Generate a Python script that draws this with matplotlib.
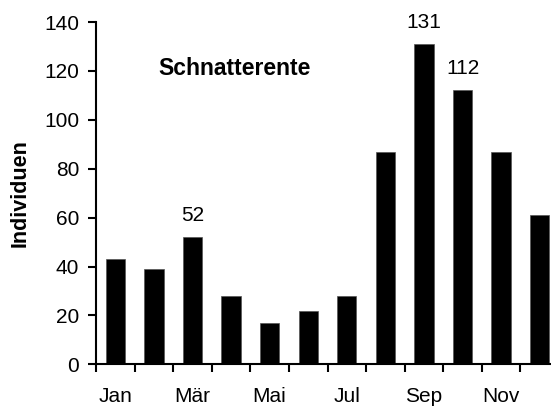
import matplotlib.pyplot as plt
import numpy as np

plt.rcParams['font.family'] = ['Liberation Sans', 'DejaVu Sans']

# monthly counts, Schnatterente
months = ['Jan', 'Feb', 'Mär', 'Apr', 'Mai', 'Jun', 'Jul', 'Aug', 'Sep', 'Okt', 'Nov', 'Dez']
counts = [43, 39, 52, 28, 17, 22, 28, 87, 131, 112, 87, 61]
labelled = {'Mär': 52, 'Sep': 131, 'Okt': 112}

fig = plt.figure(figsize=(5.51, 4.08), dpi=100)
ax = fig.add_axes([96 / 551, 1 - 364.3 / 408, (559 - 96) / 551, (364.3 - 22) / 408])

x = np.arange(len(months))
ax.bar(x, counts, width=0.5, color='black', edgecolor='#555555', linewidth=0.5)

for m, v in labelled.items():
    i = months.index(m)
    ax.text(i, v + 5, str(v), ha='center', va='bottom', fontsize=15)

ax.set_xlim(-0.5, 11.5)
ax.set_ylim(0, 140)
ax.set_yticks(range(0, 141, 20))
ax.set_xticks(x[::2])
ax.set_xticklabels(months[::2])
ax.set_xticks(np.arange(-0.5, 12, 1), minor=True)
ax.tick_params(axis='x', which='major', length=0, pad=16, labelsize=15)
ax.tick_params(axis='x', which='minor', length=6, width=1.5, direction='out')
ax.tick_params(axis='y', length=6, width=1.5, direction='out', labelsize=15, pad=6)

for s in ['top', 'right']:
    ax.spines[s].set_visible(False)
for s in ['left', 'bottom']:
    ax.spines[s].set_linewidth(1.5)

ax.set_ylabel('Individuen', fontsize=15.5, fontweight='bold', labelpad=10)
ax.text(3.09, 121, 'Schnatterente', ha='center', va='center', fontsize=16.5, fontweight='bold')

fig.savefig('out.png', dpi=100)
